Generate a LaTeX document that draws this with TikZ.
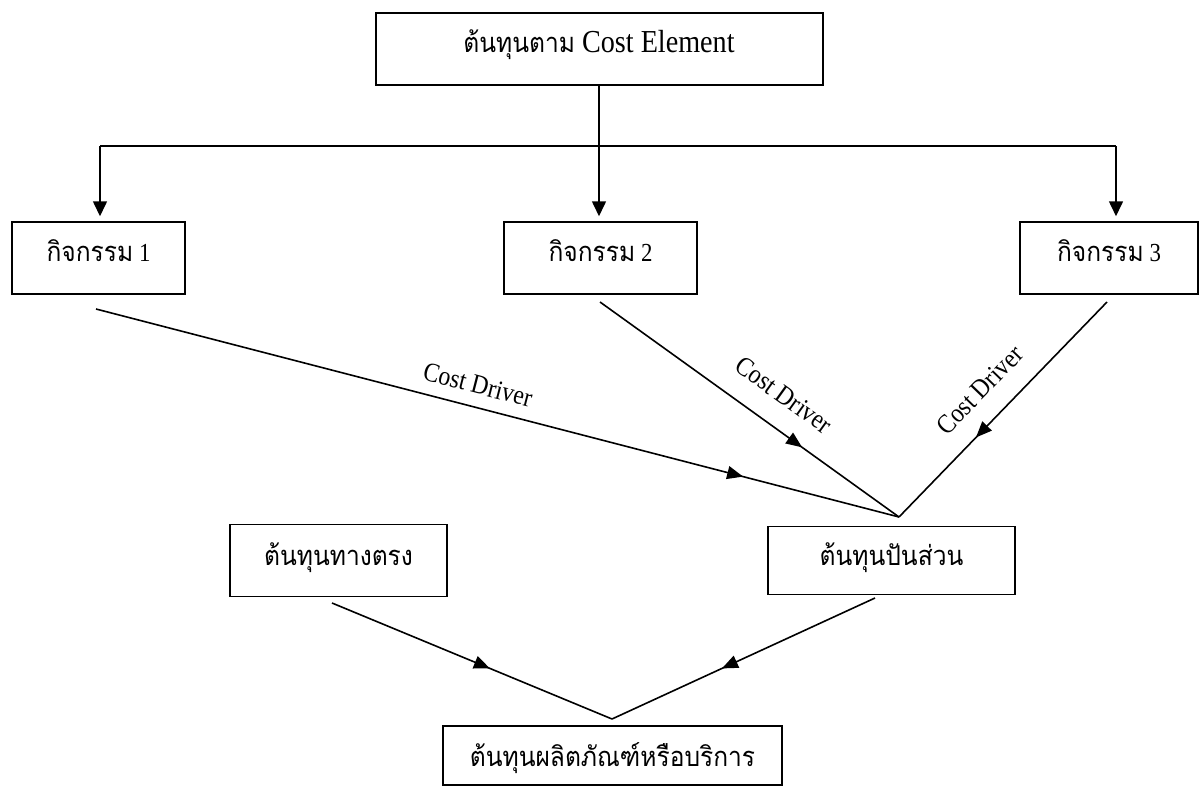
\documentclass[tikz,border=0pt]{standalone}
\usepackage{fontspec}
\setmainfont[FakeStretch=0.88]{Liberation Serif}
\newfontfamily\thai[Script=Thai,Scale=1.05,FakeStretch=0.9]{Loma}
\usetikzlibrary{arrows.meta,decorations.markings}
\newcommand{\upby}[2]{\raisebox{#1}[\height][\depth]{#2}}
\begin{document}
\begin{tikzpicture}[x=1pt,y=-1pt,
  box/.style={draw,line width=1.5pt,inner sep=0pt,align=center},
  conn/.style={line width=1.6pt},
  tip/.style={-{Triangle[length=15pt,width=14pt]}},
  midarr/.style={decoration={markings,mark=at position #1 with {\arrow{Triangle[length=16pt,width=13pt]}}},postaction={decorate}},
  lab/.style={inner sep=0pt,font=\fontsize{27}{30}\selectfont},
  big/.style={font=\fontsize{32}{36}\selectfont},
  mid/.style={font=\fontsize{26}{30}\selectfont}]
\useasboundingbox (0,0) rectangle (1200,787);
% boxes
\node[box,big,line width=2pt,minimum width=447pt,minimum height=72pt] (top) at (599,49) {\upby{4pt}{{\fontsize{26}{30}\selectfont\thai ต้นทุนตาม} Cost Element}};
\node[box,mid,minimum width=173pt,minimum height=72pt] (a1) at (98.5,258) {\upby{7pt}{{\thai กิจกรรม} 1}};
\node[box,mid,minimum width=193pt,minimum height=72pt] (a2) at (600.5,258) {\upby{7pt}{{\thai กิจกรรม} 2}};
\node[box,mid,minimum width=178pt,minimum height=72pt] (a3) at (1109,258) {\upby{7pt}{{\thai กิจกรรม} 3}};
\node[box,mid,minimum width=217pt,minimum height=72pt] (direct) at (338.5,560.5) {\upby{3pt}{\thai ต้นทุนทางตรง}};
\node[box,mid,minimum width=247pt,minimum height=68pt] (alloc) at (891.5,560.5) {\upby{3pt}{\thai ต้นทุนปันส่วน}};
\node[box,mid,minimum width=339pt,minimum height=59pt] (prod) at (612.5,755.5) {\upby{-3pt}{\thai ต้นทุนผลิตภัณฑ์หรือบริการ}};
% bus
\coordinate (bl) at (100,146);
\coordinate (bc) at (599,146);
\coordinate (br) at (1116,146);
\draw[conn] (top.south) -- (top.south |- bc);
\draw[conn] (bl) -- (br);
\draw[conn,tip,shorten >=5pt] (bl) -- (bl |- a1.north);
\draw[conn,tip,shorten >=5pt] (bc) -- (bc |- a2.north);
\draw[conn,tip,shorten >=5pt] (br) -- (br |- a3.north);
% cost driver lines
\coordinate (s1) at (96,309);
\coordinate (s2) at (600,302);
\coordinate (s3) at (1107,302);
\coordinate (m1) at (899,517);
\draw[conn,midarr=0.806] (s1) -- (m1);
\draw[conn,midarr=0.676] (s2) -- (m1);
\draw[conn,midarr=0.63] (s3) -- (m1);
\node[lab,rotate=-14.5] (l1) at (478,385) {Cost Driver};
\node[lab,rotate=-35.7] (l2) at (784,395) {Cost Driver};
\node[lab,rotate=46] (l3) at (980,390) {Cost Driver};
% bottom lines
\coordinate (s4) at (332,603);
\coordinate (s5) at (875,598);
\coordinate (m2) at (612,719);
\draw[conn,midarr=0.564] (s4) -- (m2);
\draw[conn,midarr=0.582] (s5) -- (m2);
\end{tikzpicture}
\end{document}
